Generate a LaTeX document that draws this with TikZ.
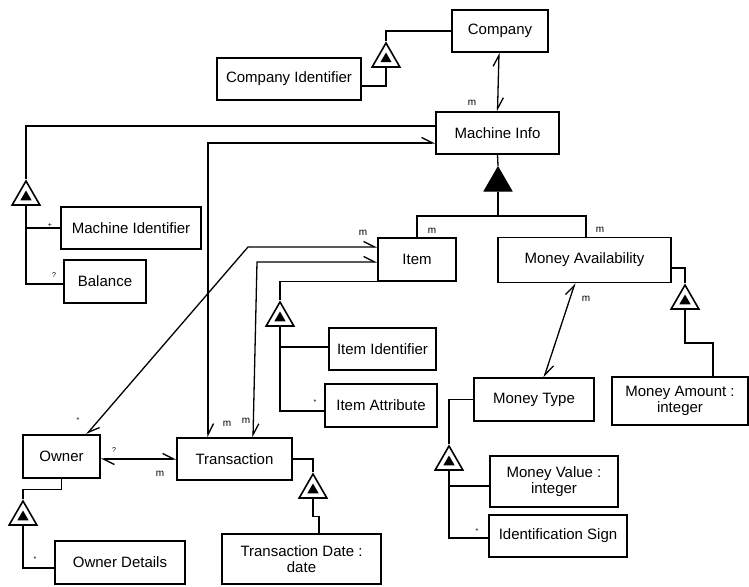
\documentclass[tikz,border=0pt]{standalone}
\usepackage{fontspec}
\setmainfont{Liberation Sans}
\usetikzlibrary{arrows.meta,shapes.geometric,calc}
\begin{document}
\begin{tikzpicture}[x=1pt,y=-1pt,
  box/.style={draw,line width=1.3pt,inner sep=1pt,font=\fontsize{15}{16}\selectfont,align=center},
  ln/.style={line width=1.3pt},
  harp/.style={line width=1.3pt,{Straight Barb[left,length=11pt,width=11pt]}-{Straight Barb[left,length=11pt,width=11pt]}},
  aggout/.style={regular polygon,regular polygon sides=3,draw,line width=1.6pt,minimum size=32pt,inner sep=0pt,fill=white},
  aggin/.style={regular polygon,regular polygon sides=3,fill=black,minimum size=13pt,inner sep=0pt},
  aggfull/.style={regular polygon,regular polygon sides=3,fill=black,draw,line width=1pt,minimum size=32pt,inner sep=0pt},
  lbl/.style={font=\fontsize{10}{11}\selectfont,inner sep=0pt},
  mk/.style={font=\fontsize{7}{8}\selectfont,inner sep=0pt}]
\useasboundingbox (0,0) rectangle (749,586);

% boxes
\node[box,minimum width=96pt,minimum height=42pt] (Company) at (500,31) {Company};
\node[box,minimum width=144pt,minimum height=42pt] (CompanyIdentifier) at (289,79) {Company Identifier};
\node[box,minimum width=123pt,minimum height=42pt] (MachineInfo) at (497.5,133) {Machine Info};
\node[box,minimum width=140pt,minimum height=42pt] (MachineIdentifier) at (131,228) {Machine Identifier};
\node[box,minimum width=82pt,minimum height=43pt] (Balance) at (105,281.5) {Balance};
\node[box,minimum width=78pt,minimum height=43pt] (Item) at (417,259.5) {Item};
\node[box,minimum width=173pt,minimum height=45pt] (MoneyAvailability) at (584.5,260) {Money Availability};
\node[box,minimum width=107pt,minimum height=42pt] (ItemIdentifier) at (382.5,349) {Item Identifier};
\node[box,minimum width=112pt,minimum height=43pt] (ItemAttribute) at (381,405.5) {Item Attribute};
\node[box,minimum width=120pt,minimum height=43pt] (MoneyType) at (534,399.5) {Money Type};
\node[box,minimum width=136pt,minimum height=48pt] (MoneyAmount) at (680,401) {Money Amount :\\integer};
\node[box,minimum width=128pt,minimum height=51pt] (MoneyValue) at (554,481.5) {Money Value :\\integer};
\node[box,minimum width=138pt,minimum height=42pt] (IdentificationSign) at (558,536) {Identification Sign};
\node[box,minimum width=77pt,minimum height=43pt] (Owner) at (61.5,456.5) {Owner};
\node[box,minimum width=115pt,minimum height=42pt] (Transaction) at (234.5,459) {Transaction};
\node[box,minimum width=130pt,minimum height=43pt] (OwnerDetails) at (120,562.5) {Owner Details};
\node[box,minimum width=159pt,minimum height=50pt] (TransactionDate) at (301.5,559) {Transaction Date :\\date};

% aggregation triangles
\node[aggout] (T1) at (386,59) {}; \node[aggin] at (T1.center) {};
\node[aggout] (T2) at (26,197) {}; \node[aggin] at (T2.center) {};
\node[aggout] (T3) at (280,318) {}; \node[aggin] at (T3.center) {};
\node[aggout] (T4) at (685,301) {}; \node[aggin] at (T4.center) {};
\node[aggout] (T5) at (449,462) {}; \node[aggin] at (T5.center) {};
\node[aggout] (T6) at (23,517) {}; \node[aggin] at (T6.center) {};
\node[aggout] (T7) at (313,490) {}; \node[aggin] at (T7.center) {};
\node[aggfull] (F) at (498,183) {};

% named bend points
\coordinate (bendA) at (248,247);
\coordinate (bendB) at (257,262);
\coordinate (J) at (498,216);
\coordinate (c4) at (685,343);

% Company
\draw[ln] (Company.west) -| (T1.corner 1);
\draw[ln] (T1.side 2) |- ([yshift=-7pt]CompanyIdentifier.east);
\draw[harp] ([xshift=-1pt]Company.south) -- (MachineInfo.north);
\node[lbl] at (472,103) {m};

% Machine Info attributes
\draw[ln] ([yshift=7pt]MachineInfo.west) -| (T2.corner 1);
\draw[ln] (T2.side 2) |- ([yshift=-2.5pt]Balance.west);
\draw[ln] (T2.side 2 |- MachineIdentifier.west) -- (MachineIdentifier.west);
\node[mk] at (50,225) {+};
\node[mk] at (54,275) {?};

% Machine Info - Transaction
\draw[harp] ([xshift=-26.5pt]Transaction.north) |- ([yshift=-10pt]MachineInfo.west);
\node[lbl] at (227,424) {m};
\node[lbl] at (246,421) {m};

% Machine Info specialisation
\draw[ln] (MachineInfo.south) -- (F.corner 1);
\draw[ln] (F.side 2) -- (J);
\draw[ln] (Item.north) |- (J) -| ([xshift=1.5pt]MoneyAvailability.north);
\node[lbl] at (432,231) {m};
\node[lbl] at (600,230) {m};

% Item - Owner, Item - Transaction
\draw[harp] ([xshift=25pt]Owner.north) -- (bendA) -- ([yshift=12.5pt]Item.west);
\node[lbl] at (363,233) {m};
\node[mk] at (78,420) {*};
\draw[harp] ([xshift=18.5pt]Transaction.north) -- (bendB) -- ([yshift=-2.5pt]Item.west);

% Item attributes
\draw[ln] (Item.south west) -| (T3.corner 1);
\draw[ln] (T3.side 2) |- ([yshift=-5.5pt]ItemAttribute.west);
\draw[ln] (T3.side 2 |- 0,347) -- ([yshift=2pt]ItemIdentifier.west);
\node[mk] at (315,402) {*};

% Money Availability
\draw[harp] ([xshift=10pt]MoneyType.north) -- ([xshift=-9.5pt]MoneyAvailability.south);
\node[lbl] at (586,299) {m};
\draw[ln] ([yshift=-8pt]MoneyAvailability.east) -| (T4.corner 1);
\draw[ln] (T4.side 2) -- (c4) -| ([xshift=33pt]MoneyAmount.north);

% Money Type
\draw[ln] (MoneyType.west) -| (T5.corner 1);
\draw[ln] (T5.side 2) |- ([yshift=-2pt]IdentificationSign.west);
\draw[ln] (T5.side 2 |- 0,486) -- ([yshift=-4.5pt]MoneyValue.west);
\node[mk] at (477,531) {*};

% Owner - Transaction
\draw[harp] ([yshift=-2.5pt]Owner.east) -- (Transaction.west);
\node[mk] at (114,450) {?};
\node[lbl] at (160,474) {m};

% Owner details
\draw[ln] (Owner.south) -- ++(0,11) -| (T6.corner 1);
\draw[ln] (T6.side 2) |- ([yshift=-5.5pt]OwnerDetails.west);
\node[mk] at (35,559) {*};

% Transaction date
\draw[ln] (Transaction.east) -| (T7.corner 1);
\draw[ln] (T7.side 2) -- ++(0,18) -| ([xshift=17.5pt]TransactionDate.north);
\end{tikzpicture}
\end{document}
